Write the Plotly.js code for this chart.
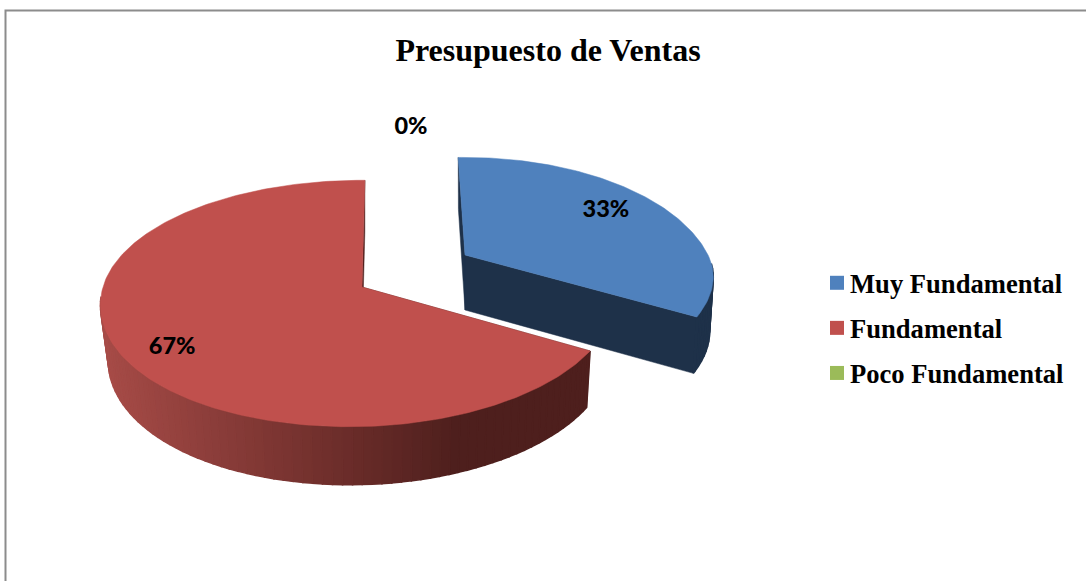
<!DOCTYPE html>
<html>
<head>
<meta charset="utf-8">
<script src="https://cdn.plot.ly/plotly-3.0.1.min.js"></script>
<style>html,body{margin:0;padding:0;background:#fff}#chart{width:1086px;height:581px}</style>
</head>
<body>
<div id="chart"></div>
<script>
var categories = ['Muy Fundamental', 'Fundamental', 'Poco Fundamental'];
var values = [33, 67, 0];
var colors = ['#4F81BD', '#C0504D', '#9BBB59'];

// the pie is faked in 3D: each slice has its own centre and perspective, axes run in pixels
var centerX = [465, 362, 410];
var centerY = [255, 287, 248];
var radiusRight = [243, 248, 245];
var radiusLeft = [243, 259, 245];
var radiusY = [122, 121, 118];
var persp = [0.25, 0.134, 0.2];
var shear = [-62, -12, 0];
var tilt = [-2, 0.75, 0];
var labelDist = [0.7, 0.82, 1.3];
var labelShiftX = [10, 7, 1];
var labelShiftY = [-2, 9, 2];
var depth = 55;

function project(i, deg, r, low) {
    var a = deg * Math.PI / 180;
    var u = r * Math.sin(a), v = -r * Math.cos(a);
    var d = 1 - persp[i] * v;
    var lean = v > 0 ? v * v : 0;
    var x = (u > 0 ? radiusRight[i] : radiusLeft[i]) * u / d + shear[i] * lean;
    var y = radiusY[i] * v / d;
    if (low) {
        x = x * (x > 0 ? 0.985 : 0.97);
        y = y + depth + 3 * v;
    }
    return [centerX[i] + x, centerY[i] + y];
}

function mix(a, b, t) {
    var c = [];
    for (var k = 0; k < 3; k++) c.push(Math.round(a[k] + (b[k] - a[k]) * t));
    return 'rgb(' + c.join(',') + ')';
}

function wallColor(i, x) {
    if (i === 0) return '#1E3149';
    if (x < 340) return mix([168, 76, 72], [110, 46, 43], (x - 105) / 235);
    if (x < 460) return mix([110, 46, 43], [78, 31, 29], (x - 340) / 120);
    return '#4E1F1D';
}

function poly(xs, ys, color) {
    return {
        x: xs, y: ys, type: 'scatter', mode: 'lines', fill: 'toself',
        fillcolor: color, line: {color: color, width: 1.5},
        showlegend: false, hoverinfo: 'skip'
    };
}

function topPoly(xs, ys, color) {
    var tr = poly(xs, ys, color);
    tr.line.width = 0.5;
    return tr;
}

var total = values.reduce(function (a, b) { return a + b; }, 0);
var walls = [], tops = [], labelX = [], labelY = [], labelText = [];
var cum = 0;

values.forEach(function (val, i) {
    var span = val / total * 360;
    var start = cum + tilt[i];
    var end = start + span;
    var mid = project(i, start + span / 2, labelDist[i]);
    labelX.push(mid[0] + labelShiftX[i]);
    labelY.push(mid[1] + labelShiftY[i]);
    labelText.push(Math.round(val / total * 100) + '%');
    if (val > 0) {
        // cut faces
        [start, end].forEach(function (edge) {
            var a = project(i, edge, 0), b = project(i, edge, 1);
            var c = project(i, edge, 1, true), e = project(i, edge, 0, true);
            walls.push(topPoly([a[0], b[0], c[0], e[0], a[0]], [a[1], b[1], c[1], e[1], a[1]], wallColor(i === 0 ? 0 : 1, 1000)));
        });
        // rim, only the part facing the viewer
        for (var t = start; t < end; t += 2) {
            var t2 = Math.min(t + 2, end);
            if (-Math.cos(t * Math.PI / 180) < 0.1 && -Math.cos(t2 * Math.PI / 180) < 0.1) continue;
            var p1 = project(i, t, 1), p2 = project(i, t2, 1);
            var q1 = project(i, t, 1, true), q2 = project(i, t2, 1, true);
            walls.push(poly([p1[0], p2[0], q2[0], q1[0], p1[0]], [p1[1], p2[1], q2[1], q1[1], p1[1]], wallColor(i, q1[0])));
        }
        var xs = [centerX[i]], ys = [centerY[i]];
        for (var s = start; s < end; s += 1) {
            var p = project(i, s, 1);
            xs.push(p[0]);
            ys.push(p[1]);
        }
        var last = project(i, end, 1);
        xs.push(last[0], centerX[i]);
        ys.push(last[1], centerY[i]);
        tops.push(topPoly(xs, ys, colors[i]));
    }
    cum += span;
});

var labelTrace = {
    x: labelX, y: labelY, text: labelText, type: 'scatter', mode: 'text',
    textposition: 'middle center',
    textfont: {family: 'Lato', size: 23.5, color: '#000', weight: 900},
    showlegend: false, hoverinfo: 'skip'
};

var legendTraces = categories.map(function (name, i) {
    return {
        x: [null], y: [null], type: 'scatter', mode: 'markers', name: name,
        legendgroup: name,
        marker: {symbol: 'square', size: 14, color: colors[i]}
    };
});

var layout = {
    width: 1086,
    height: 581,
    margin: {l: 0, r: 0, t: 0, b: 0},
    paper_bgcolor: '#fff',
    plot_bgcolor: '#fff',
    title: {
        text: '<b>Presupuesto de Ventas</b>',
        x: 548 / 1086, xanchor: 'center', y: 1 - 50 / 581, yanchor: 'middle',
        font: {family: 'Liberation Serif', size: 32, color: '#000'}
    },
    xaxis: {range: [0, 1086], visible: false, fixedrange: true},
    yaxis: {range: [581, 0], visible: false, fixedrange: true},
    legend: {
        x: 817 / 1086, xanchor: 'left', y: 1 - 259 / 581, yanchor: 'top',
        bgcolor: 'rgba(0,0,0,0)', tracegroupgap: 7.5,
        font: {family: 'Liberation Serif', size: 26.6, color: '#000', weight: 700}
    },
    shapes: [{
        type: 'path', path: 'M 5.5 581 L 5.5 10.5 L 1086 10.5',
        line: {color: '#8C8C8C', width: 2}
    }]
};

Plotly.newPlot('chart', walls.concat(tops, [labelTrace], legendTraces), layout, {displayModeBar: false}).then(function (gd) {
    // legend text sits closer to the swatch in the original
    gd.querySelectorAll('.legendtext').forEach(function (el) {
        el.setAttribute('x', parseFloat(el.getAttribute('x')) - 7);
    });
});
</script>
</body>
</html>
